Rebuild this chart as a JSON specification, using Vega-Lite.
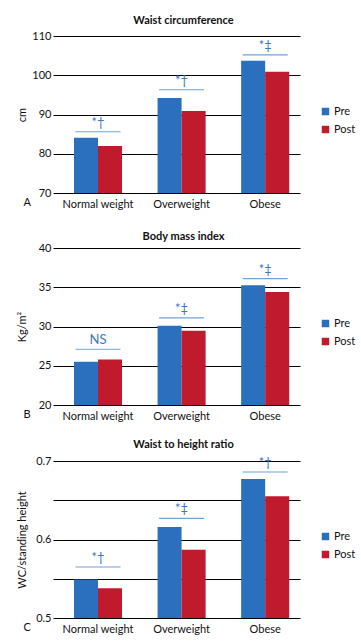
{
  "$schema": "https://vega.github.io/schema/vega-lite/v6.json",
  "background": "white",
  "padding": {"left": 16, "top": 15, "right": 5, "bottom": 2},
  "datasets": {
    "bars": [
      {"panel": "A", "group": "Normal weight", "period": "Pre", "value": 84.1},
      {"panel": "A", "group": "Normal weight", "period": "Post", "value": 82.0},
      {"panel": "A", "group": "Overweight", "period": "Pre", "value": 94.2},
      {"panel": "A", "group": "Overweight", "period": "Post", "value": 90.9},
      {"panel": "A", "group": "Obese", "period": "Pre", "value": 103.7},
      {"panel": "A", "group": "Obese", "period": "Post", "value": 100.9},
      {"panel": "B", "group": "Normal weight", "period": "Pre", "value": 25.5},
      {"panel": "B", "group": "Normal weight", "period": "Post", "value": 25.8},
      {"panel": "B", "group": "Overweight", "period": "Pre", "value": 30.1},
      {"panel": "B", "group": "Overweight", "period": "Post", "value": 29.45},
      {"panel": "B", "group": "Obese", "period": "Pre", "value": 35.25},
      {"panel": "B", "group": "Obese", "period": "Post", "value": 34.4},
      {"panel": "C", "group": "Normal weight", "period": "Pre", "value": 0.549},
      {"panel": "C", "group": "Normal weight", "period": "Post", "value": 0.538},
      {"panel": "C", "group": "Overweight", "period": "Pre", "value": 0.616},
      {"panel": "C", "group": "Overweight", "period": "Post", "value": 0.587},
      {"panel": "C", "group": "Obese", "period": "Pre", "value": 0.677},
      {"panel": "C", "group": "Obese", "period": "Post", "value": 0.655}
    ],
    "sig": [
      {"panel": "A", "group": "Normal weight", "label": "*†", "value": 85.6},
      {"panel": "A", "group": "Overweight", "label": "*†", "value": 96.3},
      {"panel": "A", "group": "Obese", "label": "*‡", "value": 105.2},
      {"panel": "B", "group": "Normal weight", "label": "NS", "value": 27.1},
      {"panel": "B", "group": "Overweight", "label": "*‡", "value": 31.1},
      {"panel": "B", "group": "Obese", "label": "*‡", "value": 36.1},
      {"panel": "C", "group": "Normal weight", "label": "*†", "value": 0.565},
      {"panel": "C", "group": "Overweight", "label": "*‡", "value": 0.627},
      {"panel": "C", "group": "Obese", "label": "*†", "value": 0.686}
    ]
  },
  "spacing": 22,
  "resolve": {"scale": {"y": "independent"}, "legend": {"color": "independent"}},
  "vconcat": [
    {
      "title": {"text": "Waist circumference", "offset": 4},
      "width": 247,
      "height": 157,
      "encoding": {
        "x": {"field": "group", "type": "nominal", "sort": ["Normal weight", "Overweight", "Obese"],
              "scale": {"paddingInner": 0.425, "paddingOuter": 0.19, "align": 0.66},
              "axis": {"title": "A"}},
        "y": {"field": "value", "type": "quantitative", "scale": {"domain": [70, 110], "nice": false, "zero": false},
              "axis": {"title": "cm", "values": [70, 80, 90, 100, 110]}}
      },
      "layer": [
        {
          "data": {"name": "bars"},
          "transform": [{"filter": "datum.panel === 'A'"}],
          "mark": {"type": "bar", "clip": true},
          "encoding": {
            "xOffset": {"field": "period", "type": "nominal", "sort": ["Pre", "Post"], "scale": {"paddingInner": 0, "paddingOuter": 0}},
            "color": {"field": "period", "type": "nominal", "sort": ["Pre", "Post"],
                      "scale": {"domain": ["Pre", "Post"], "range": ["#2b70bf", "#c01b2c"]}}
          }
        },
        {
          "data": {"name": "sig"},
          "transform": [{"filter": "datum.panel === 'A'"}],
          "mark": {"type": "tick", "size": 45, "thickness": 1.2, "color": "#3b78c0"},
          "encoding": {}
        },
        {
          "data": {"name": "sig"},
          "transform": [{"filter": "datum.panel === 'A'"}],
          "mark": {"type": "text", "dy": -9, "fontSize": 13, "color": "#3b78c0", "font": "Lato"},
          "encoding": {"text": {"field": "label"}}
        }
      ]
    },
    {
      "spacing": 18,
      "resolve": {"scale": {"y": "independent"}, "legend": {"color": "independent"}},
      "vconcat": [
        {
          "title": {"text": "Body mass index", "offset": 0},
          "width": 247,
          "height": 157,
          "encoding": {
            "x": {"field": "group", "type": "nominal", "sort": ["Normal weight", "Overweight", "Obese"],
                  "scale": {"paddingInner": 0.425, "paddingOuter": 0.19, "align": 0.66},
                  "axis": {"title": "B"}},
            "y": {"field": "value", "type": "quantitative", "scale": {"domain": [20, 40], "nice": false, "zero": false},
                  "axis": {"title": "Kg/m²", "values": [20, 25, 30, 35, 40]}}
          },
          "layer": [
            {
              "data": {"name": "bars"},
              "transform": [{"filter": "datum.panel === 'B'"}],
              "mark": {"type": "bar", "clip": true},
              "encoding": {
                "xOffset": {"field": "period", "type": "nominal", "sort": ["Pre", "Post"], "scale": {"paddingInner": 0, "paddingOuter": 0}},
                "color": {"field": "period", "type": "nominal", "sort": ["Pre", "Post"],
                          "scale": {"domain": ["Pre", "Post"], "range": ["#2b70bf", "#c01b2c"]}}
              }
            },
            {
              "data": {"name": "sig"},
              "transform": [{"filter": "datum.panel === 'B'"}],
              "mark": {"type": "tick", "size": 45, "thickness": 1.2, "color": "#3b78c0"},
              "encoding": {}
            },
            {
              "data": {"name": "sig"},
              "transform": [{"filter": "datum.panel === 'B'"}],
              "mark": {"type": "text", "dy": -9, "fontSize": 13, "color": "#3b78c0", "font": "Lato"},
              "encoding": {"text": {"field": "label"}}
            }
          ]
        },
        {
          "title": {"text": "Waist to height ratio", "offset": 5},
          "width": 247,
          "height": 157,
          "encoding": {
            "x": {"field": "group", "type": "nominal", "sort": ["Normal weight", "Overweight", "Obese"],
                  "scale": {"paddingInner": 0.425, "paddingOuter": 0.19, "align": 0.66},
                  "axis": {"title": "C"}},
            "y": {"field": "value", "type": "quantitative", "scale": {"domain": [0.5, 0.7], "nice": false, "zero": false},
                  "axis": {"title": "WC/standing height", "values": [0.5, 0.55, 0.6, 0.65, 0.7],
                           "labelExpr": "round(datum.value * 100) % 10 === 0 ? format(datum.value, '.1f') : ''"}}
          },
          "layer": [
            {
              "data": {"name": "bars"},
              "transform": [{"filter": "datum.panel === 'C'"}],
              "mark": {"type": "bar", "clip": true},
              "encoding": {
                "xOffset": {"field": "period", "type": "nominal", "sort": ["Pre", "Post"], "scale": {"paddingInner": 0, "paddingOuter": 0}},
                "color": {"field": "period", "type": "nominal", "sort": ["Pre", "Post"],
                          "scale": {"domain": ["Pre", "Post"], "range": ["#2b70bf", "#c01b2c"]}}
              }
            },
            {
              "data": {"name": "sig"},
              "transform": [{"filter": "datum.panel === 'C'"}],
              "mark": {"type": "tick", "size": 45, "thickness": 1.2, "color": "#3b78c0"},
              "encoding": {}
            },
            {
              "data": {"name": "sig"},
              "transform": [{"filter": "datum.panel === 'C'"}],
              "mark": {"type": "text", "dy": -9, "fontSize": 13, "color": "#3b78c0", "font": "Lato"},
              "encoding": {"text": {"field": "label"}}
            }
          ]
        }
      ]
    }
  ],
  "config": {
    "font": "Lato",
    "view": {"stroke": null},
    "title": {"fontSize": 11, "fontWeight": "bold", "color": "#111", "anchor": "middle", "dx": 7, "font": "Lato"},
    "axis": {"labelFont": "Lato", "titleFont": "Lato", "labelColor": "#111", "titleColor": "#111", "labelFontSize": 11, "titleFontSize": 11, "titleFontWeight": "normal"},
    "axisX": {"domain": false, "ticks": false, "grid": false, "labelAngle": 0, "labelPadding": 5,
              "titleAnchor": "start", "titleAlign": "left", "titleBaseline": "middle", "titleX": -30, "titleY": 9},
    "axisY": {"domain": false, "ticks": false, "grid": true, "gridColor": "#000", "gridWidth": 1, "gridOpacity": 1,
              "labelPadding": 2, "minExtent": 22, "maxExtent": 22, "titlePadding": 4, "labelOverlap": false},
    "legend": {"orient": "none", "legendX": 267, "legendY": 70, "title": null, "symbolType": "square", "symbolSize": 56,
               "symbolStrokeWidth": 0, "labelFontSize": 11, "labelFont": "Lato", "labelColor": "#111", "rowPadding": 6, "labelOffset": 3, "padding": 0}
  }
}
